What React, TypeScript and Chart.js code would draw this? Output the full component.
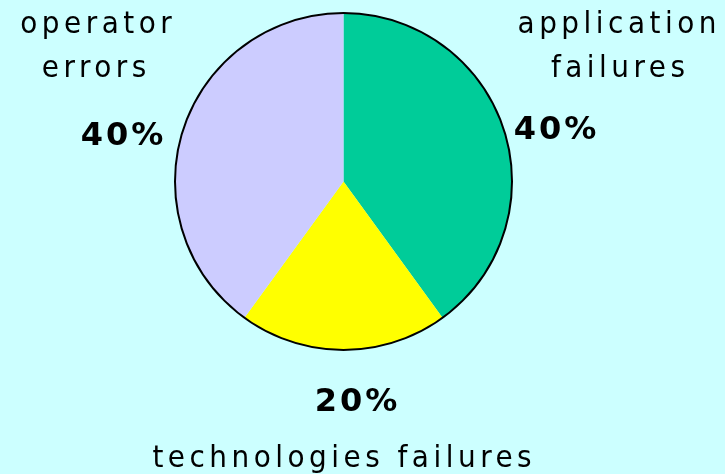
import React, { useEffect, useRef } from "react";
import { Chart, registerables } from "chart.js";

Chart.register(...registerables);

const categories = ["application failures", "technologies failures", "operator errors"];
const values = [40, 20, 40];
const percentLabels = ["40%", "20%", "40%"];
const colors = ["#00CC99", "#FFFF00", "#CCCCFF"];

const BG = "#CCFFFF";

const labelPlugin = {
  id: "outerLabels",
  beforeDraw(chart: any) {
    const ctx = chart.ctx;
    ctx.save();
    ctx.fillStyle = BG;
    ctx.fillRect(0, 0, chart.width, chart.height);
    ctx.restore();
  },
  afterDatasetsDraw(chart: any) {
    const ctx = chart.ctx;
    const meta = chart.getDatasetMeta(0);
    const arc = meta.data[0];
    const cx = arc.x;
    const cy = arc.y;
    const r = arc.outerRadius;
    ctx.save();
    ctx.beginPath();
    ctx.arc(cx, cy, r, 0, Math.PI * 2);
    ctx.lineWidth = 2;
    ctx.strokeStyle = "#000";
    ctx.stroke();

    ctx.fillStyle = "#000";
    ctx.textAlign = "center";
    ctx.textBaseline = "alphabetic";
    const reg = "31px 'DejaVu Sans Condensed', 'DejaVu Sans', sans-serif";
    const bold = "bold 32px 'DejaVu Sans', Verdana, sans-serif";
    const put = (t: string, x: number, y: number, f: string, ls: number) => {
      ctx.font = f;
      (ctx as any).letterSpacing = ls + "px";
      ctx.fillText(t, x + ls / 2, y);
    };
    // application failures (right top)
    const app = categories[0].split(" ");
    put(app[0], 617, 33, reg, 4.5);
    put(app[1], 618, 77, reg, 4.5);
    put(percentLabels[0], 555, 139, bold, 3);
    // operator errors
    const op = categories[2].split(" ");
    put(op[0], 96, 33, reg, 4.5);
    put(op[1], 94, 77, reg, 4.5);
    put(percentLabels[2], 122, 145, bold, 3);
    // technologies failures
    put(percentLabels[1], 356, 411, bold, 3);
    put(categories[1], 342, 467, reg, 4.5);
    ctx.restore();
  },
};

export default function App() {
  const ref = useRef<HTMLCanvasElement>(null);
  useEffect(() => {
    document.body.style.margin = "0";
    const chart = new Chart(ref.current!, {
      type: "pie",
      data: {
        labels: categories,
        datasets: [
          {
            data: values,
            backgroundColor: colors,
            borderWidth: 0,
          },
        ],
      },
      options: {
        animation: false,
        responsive: false,
        maintainAspectRatio: false,
        layout: { padding: { left: 175, right: 213, top: 12, bottom: 123 } },
        plugins: {
          legend: { display: false },
          tooltip: { enabled: false },
          title: { display: false },
        },
      },
      plugins: [labelPlugin],
    });
    return () => chart.destroy();
  }, []);
  return (
    <div style={{ width: 725, height: 474, background: BG }}>
      <canvas ref={ref} width={725} height={474} style={{ display: "block" }} />
    </div>
  );
}
